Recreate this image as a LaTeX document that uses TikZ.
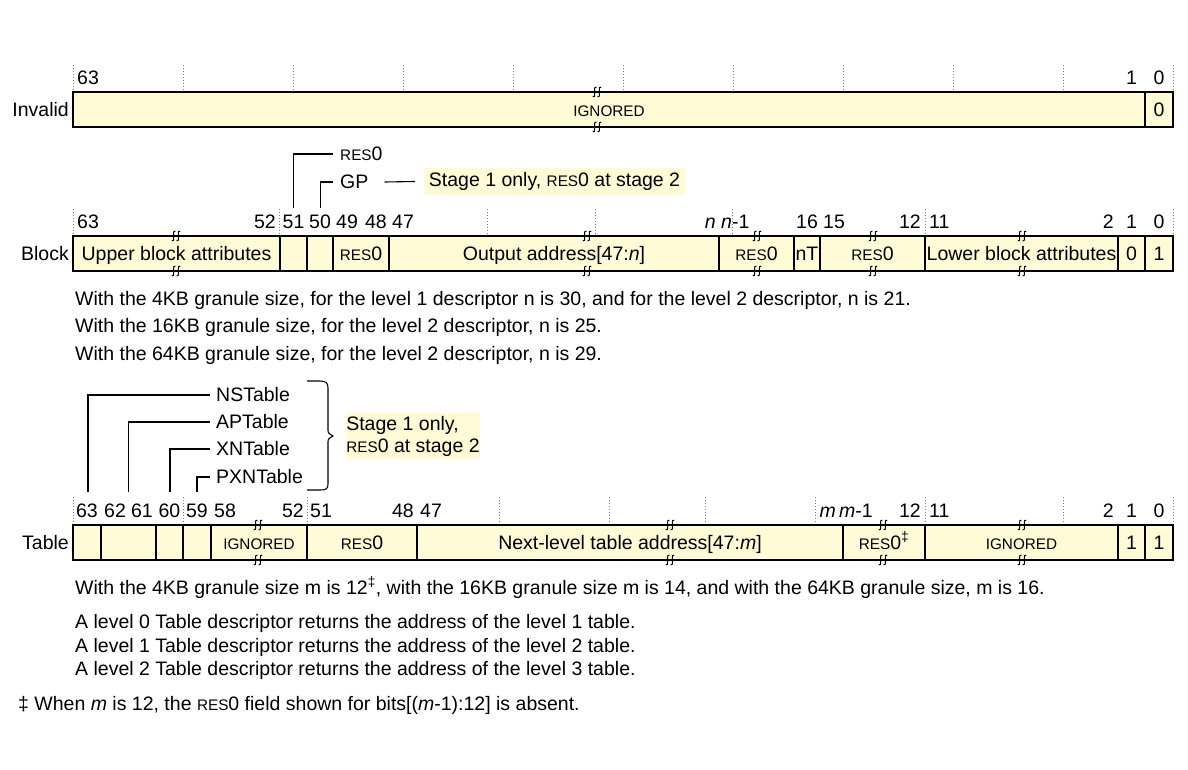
\documentclass[tikz,border=0pt]{standalone}
\usepackage{fontspec}
\setmainfont{Liberation Sans}
\usepackage{tikz}
\usetikzlibrary{positioning}
\definecolor{fieldfill}{RGB}{255,251,214}
\newcommand\mainsz{\fontsize{19.5}{22}\selectfont}
\newcommand\capsz{\fontsize{15.3}{18}\selectfont}
\newcommand\resz{{\capsz RES}0}
\newcommand\ign{{\capsz IGNORED}}

\tikzset{
  cellbox/.style={draw, line width=1.3pt, fill=fieldfill},
  rowframe/.style={draw, line width=2pt},
  tick/.style={gray, line width=0.7pt, dash pattern=on 1pt off 2pt},
  bitnum/.style={inner sep=0pt},
  celltxt/.style={inner sep=0pt, anchor=base},
  rowname/.style={inner sep=0pt, anchor=base east},
  callout/.style={inner sep=0pt},
  lead/.style={line width=1.1pt},
  note/.style={inner sep=0pt, anchor=base west},
  stagebox/.style={fill=fieldfill, inner sep=0pt},
  brk/.pic={
    \foreach \d in {-2.4,2.4}
      \draw[line width=1pt] (\d+1.8,-4.8) .. controls (\d+0.4,-6.2) and (\d-0.3,-4) .. (\d,0)
        .. controls (\d+0.3,4) and (\d-0.4,6.2) .. (\d-1.8,4.8);
  }
}

\begin{document}
\begin{tikzpicture}[x=1pt, y=-1pt, every node/.style={font=\mainsz}]
  \useasboundingbox (0,0) rectangle (1188,770);

  % Invalid descriptor
  \foreach \x in {73,183,...,1173}
    \draw[tick] (\x,65) -- (\x,92);
  \foreach \l/\r/\t/\n in {73/1145/\ign/ign, 1145/1173/0/b0} {
    \draw[cellbox] (\l,92) rectangle (\r,127);
    \node[celltxt] (inv-\n) at ({(\l+\r)/2},116.5) {\t};
  }
  \draw[rowframe] (73,92) rectangle (1173,127);
  \pic at (597,92) {brk};
  \pic at (597,127) {brk};
  \foreach \x/\a/\t [count=\i] in {77/base west/63, 1131.5/base/1, 1159/base/0}
    \node[bitnum, anchor=\a] (invbit\i) at (\x,85) {\t};
  \node[rowname] (inv) at (69,116.5) {Invalid};

  % Block descriptor
  \foreach \x in {73,279,487,595,732,925,1173}
    \draw[tick] (\x,209) -- (\x,236);
  \foreach \l/\r/\t/\n in {73/280/{Upper block attributes}/uba, 280/307/{}/b51,
      307/333/{}/b50, 333/389/\resz/r49, 389/719/{Output address[47:\textit{n}]}/oa,
      719/794/\resz/rn, 794/820/nT/nt, 820/925/\resz/r15,
      925/1118/{Lower block attributes}/lba, 1118/1145/0/b1, 1145/1173/1/b0} {
    \draw[cellbox] (\l,236) rectangle (\r,271);
    \node[celltxt] (blk-\n) at ({(\l+\r)/2},260.5) {\t};
  }
  \draw[rowframe] (73,236) rectangle (1173,271);
  \foreach \x in {176,587,757,873,1022} {
    \pic at (\x,236) {brk};
    \pic at (\x,271) {brk};
  }
  \foreach \x/\a/\t [count=\i] in {77/base west/63, 276/base east/52, 293.5/base/51,
      320/base/50, 336/base west/49, 387/base east/48, 392/base west/47,
      716/base east/\textit{n}, 721/base west/\textit{n}-1, 807/base/16,
      823/base west/15, 921/base east/12, 929/base west/11, 1114/base east/2,
      1131.5/base/1, 1159/base/0}
    \node[bitnum, anchor=\a] (blkbit\i) at (\x,229) {\t};
  \node[rowname] (blk) at (69,260.5) {Block};

  % block callouts
  \coordinate (c51) at (293.5,208);
  \coordinate (c50) at (320.5,208);
  \node[callout, anchor=west] (res51) at (340,154) {\resz};
  \node[callout, anchor=west] (gp) at (340,182) {GP};
  \draw[lead] (c51) |- ([xshift=-7pt]res51.west);
  \draw[lead] (c50) |- ([xshift=-7pt]gp.west);
  \node[stagebox, minimum width=261pt, minimum height=27pt] (stage1) at (554.5,181.5)
    {Stage 1 only, \resz{} at stage 2};
  \draw[lead] ([xshift=16pt]gp.east) -- ([xshift=-9pt]stage1.west);

  % block notes
  \node[note] (blk-n1) at (75,305) {With the 4KB granule size, for the level 1 descriptor n is 30, and for the level 2 descriptor, n is 21.};
  \node[note] (blk-n2) at (75,332) {With the 16KB granule size, for the level 2 descriptor, n is 25.};
  \node[note] (blk-n3) at (75,360) {With the 64KB granule size, for the level 2 descriptor, n is 29.};

  % table callouts
  \coordinate (t63) at (88,492);
  \coordinate (t62) at (128.5,492);
  \coordinate (t60) at (170,492);
  \coordinate (t59) at (197,492);
  \node[callout, anchor=west] (ns) at (216,395) {NSTable};
  \node[callout, anchor=west] (ap) at (216,422) {APTable};
  \node[callout, anchor=west] (xn) at (216,449) {XNTable};
  \node[callout, anchor=west] (pxn) at (216,477) {PXNTable};
  \draw[lead] (t63) |- ([xshift=-6pt]ns.west);
  \draw[lead] (t62) |- ([xshift=-6pt]ap.west);
  \draw[lead] (t60) |- ([xshift=-6pt]xn.west);
  \draw[lead] (t59) |- ([xshift=-6pt]pxn.west);
  \draw[lead] (307,381) -- (320,381) .. controls (326,381) and (328,383) .. (328,388)
    -- (328,429) .. controls (328,433) .. (333,436) .. controls (328,439) .. (328,443)
    -- (328,484) .. controls (328,489) and (326,490) .. (320,490) -- (307,490);
  \node[stagebox, align=left, minimum width=132pt, minimum height=46pt] (stage2) at (413,436)
    {Stage 1 only,\\\resz{} at stage 2};

  % Table descriptor
  \foreach \x in {73,183,307,499,609,705,815,925,1063,1173}
    \draw[tick] (\x,497) -- (\x,525);
  \foreach \l/\r/\t/\n in {73/101/{}/b63, 101/156/{}/b62, 156/183/{}/b60, 183/211/{}/b59,
      211/307/\ign/ig, 307/417/\resz/r51, 417/843/{Next-level table address[47:\textit{m}]}/nla,
      843/925/{\resz\textsuperscript{‡}}/rm, 925/1118/\ign/ig2, 1118/1145/1/b1, 1145/1173/1/b0} {
    \draw[cellbox] (\l,525) rectangle (\r,560);
    \node[celltxt] (tbl-\n) at ({(\l+\r)/2},549.5) {\t};
  }
  \draw[rowframe] (73,525) rectangle (1173,560);
  \foreach \x in {258,670,883,1022} {
    \pic at (\x,525) {brk};
    \pic at (\x,560) {brk};
  }
  \foreach \x/\a/\t [count=\i] in {87/base/63, 104/base west/62, 153/base east/61,
      169.5/base/60, 197/base/59, 214/base west/58, 304/base east/52, 310/base west/51,
      414/base east/48, 420/base west/47, 836/base east/\textit{m}, 839/base west/\textit{m}-1,
      921/base east/12, 929/base west/11, 1114/base east/2, 1131.5/base/1, 1159/base/0}
    \node[bitnum, anchor=\a] (tblbit\i) at (\x,517) {\t};
  \node[rowname] (tbl) at (69,549.5) {Table};

  % table notes
  \node[note] (tbl-n1) at (75,594) {With the 4KB granule size m is 12\textsuperscript{‡}, with the 16KB granule size m is 14, and with the 64KB granule size, m is 16.};
  \node[note] (tbl-n2) at (75,628) {A level 0 Table descriptor returns the address of the level 1 table.};
  \node[note] (tbl-n3) at (75,652) {A level 1 Table descriptor returns the address of the level 2 table.};
  \node[note] (tbl-n4) at (75,675) {A level 2 Table descriptor returns the address of the level 3 table.};
  \node[note] (foot) at (18,710) {‡ When \textit{m} is 12, the \resz{} field shown for bits[(\textit{m}-1):12] is absent.};
\end{tikzpicture}
\end{document}
